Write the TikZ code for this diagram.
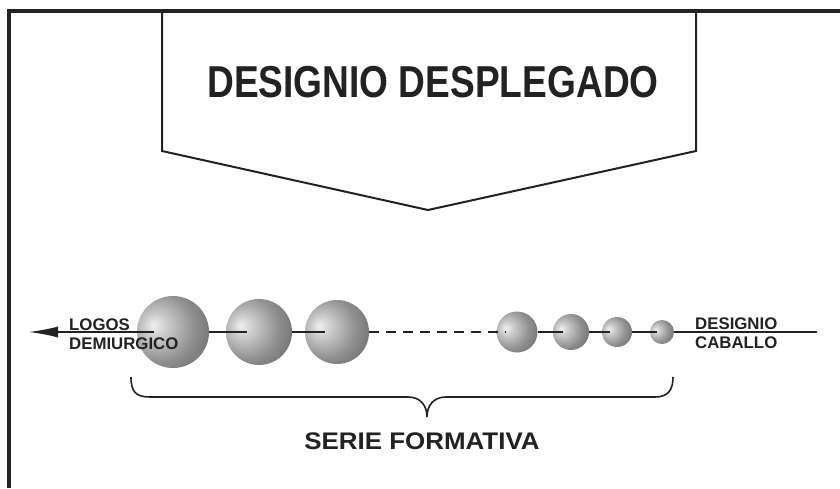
\documentclass[tikz,border=0pt]{standalone}
\usepackage{fontspec}
\setmainfont{Liberation Sans}
\usepackage{tikz}
\usepackage{xcolor}
\usetikzlibrary{arrows.meta}
\definecolor{inkgray}{HTML}{222222}
\pgfdeclareradialshading{sphere-shade}{\pgfpoint{-14bp}{5bp}}{%
    color(0bp)=(black!6); color(8bp)=(black!20); color(24bp)=(black!44);
    color(42bp)=(black!62); color(58bp)=(black!76); color(70bp)=(black!80)}
\tikzset{
    frame-line/.style = {draw=inkgray, line width=4pt},
    arrow-box/.style = {draw=inkgray, line width=2pt, line join=miter},
    sphere/.style = {circle, shading=sphere-shade, inner sep=0pt},
    axis-line/.style = {draw=inkgray, line width=1.3pt},
    brace-line/.style = {draw=inkgray, line width=1.6pt},
    small-label/.style = {text=inkgray, font=\fontsize{16.8}{19}\selectfont\bfseries, inner sep=0pt},
    big-label/.style = {text=inkgray, font=\fontsize{24}{28}\selectfont\bfseries, inner sep=0pt},
    title-label/.style = {text=inkgray, font=\fontsize{44.7}{50}\selectfont\bfseries, inner sep=0pt},
}

\begin{document}
\begin{tikzpicture}[x=1pt, y=-1pt]
\useasboundingbox (0,0) rectangle (840,488);
\fill[white] (0,0) rectangle (840,488);
% frame and arrow box
\draw[frame-line] (9,488) |- (840,10.5);
\draw[arrow-box] (162,10.5) -- (162,151) -- (428,210) -- (696,151) -- (696,10.5);
\node[title-label, anchor=base] (title) at (433,97) {\scalebox{0.83}[1]{DESIGNIO DESPLEGADO}};
% spheres
\foreach \n/\x/\d in {1/173/72, 2/259/66, 3/337/64, 4/517/41, 5/571/36, 6/617/30, 7/662/24}
    \node[sphere, minimum size=\d pt] (s\n) at (\x,332) {};
\coordinate (logos-tip) at (29,332);
\coordinate (caballo-end) at (817,332);
% connectors
\draw[axis-line, -{Latex[length=29pt, width=11pt]}, shorten <=19pt] (s1.center) -- (logos-tip);
\draw[axis-line, shorten >=12pt] (s1.east) -- (s2.center);
\draw[axis-line, shorten >=12pt] (s2.east) -- (s3.center);
\draw[axis-line, dash pattern=on 10pt off 7pt, shorten >=11pt] (s3.east) -- (s4.center);
\draw[axis-line, shorten >=8pt] (s4.east) -- (s5.center);
\draw[axis-line, shorten >=7pt] (s5.east) -- (s6.center);
\draw[axis-line, shorten >=5pt] (s6.east) -- (s7.center);
\draw[axis-line] (s7.east) -- (caballo-end);
% labels
\node[small-label, anchor=base west] (logos) at (69,330) {LOGOS};
\node[small-label, anchor=base west] (demiurgico) at (69,349) {DEMIURGICO};
\node[small-label, anchor=base west] (designio) at (695,329) {DESIGNIO};
\node[small-label, anchor=base west] (caballo) at (695,348) {CABALLO};
% brace
\draw[brace-line] (131,377) .. controls (131,392) and (136,397) .. (150,397) -- (408,397)
    .. controls (420,397) and (427,405) .. (427,417)
    .. controls (427,405) and (434,397) .. (446,397) -- (655,397)
    .. controls (668,397) and (673,390) .. (673,377);
\node[big-label, anchor=base] (serie) at (422,449) {\scalebox{1.08}[1]{SERIE FORMATIVA}};
\end{tikzpicture}
\end{document}
